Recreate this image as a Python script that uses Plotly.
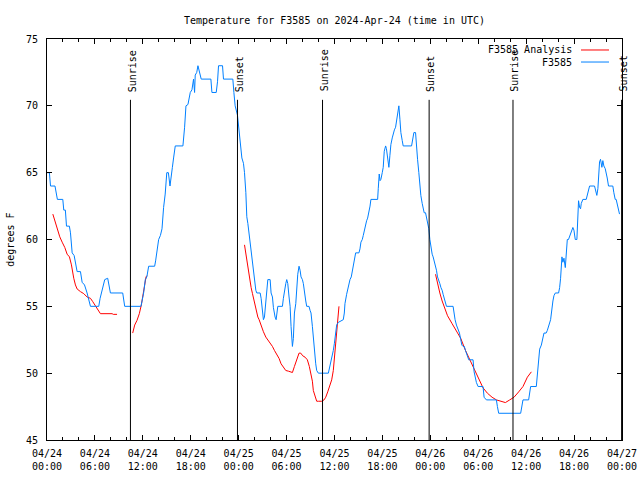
import pandas as pd
import plotly.graph_objects as go

start = pd.Timestamp("2024-04-24 00:00")

# Station observations (hours since 04/24 00:00 UTC, degrees F)
obs_hours = [0.0, 0.3, 0.44, 1.0, 1.3, 1.98, 2.1, 2.3, 2.44, 2.8, 2.94, 3.15, 3.4, 3.65, 3.77, 4.19, 4.4, 4.7,
             5.02, 5.44, 6.48, 6.65, 6.81, 7.0, 7.23, 7.6, 7.73, 7.94, 9.48, 9.6, 9.73, 11.77, 12.1, 12.31, 12.5,
             12.73, 13.48, 13.6, 13.77, 13.98, 14.2, 14.4, 14.6, 14.8, 15.0, 15.2, 15.4, 15.55, 15.7, 15.85, 16.06,
             17.02, 17.15, 17.23, 17.4, 17.65, 17.94, 18.15, 18.35, 18.48, 18.56, 18.75, 18.9, 19.1, 19.31, 20.52,
             20.65, 21.19, 21.35, 21.48, 21.98, 22.1, 23.27, 23.4, 23.56, 23.85, 24.06, 24.2, 24.4, 24.6, 24.73,
             24.9, 25.02, 25.15, 25.31, 25.44, 25.56, 25.73, 25.85, 25.98, 26.15, 26.27, 26.69, 26.81, 26.98, 27.1,
             27.23, 27.4, 27.52, 27.65, 27.94, 28.06, 28.23, 28.35, 28.56, 28.69, 28.9, 29.48, 29.6, 29.73, 29.9,
             30.02, 30.15, 30.31, 30.44, 30.56, 30.73, 30.85, 30.98, 31.15, 31.27, 31.4, 31.56, 31.69, 31.81, 31.98,
             32.1, 32.23, 32.4, 32.52, 32.81, 32.94, 33.06, 33.23, 33.35, 33.48, 33.65, 33.77, 33.98, 35.23, 35.44,
             35.56, 35.85, 35.98, 36.15, 36.27, 36.48, 37.1, 37.23, 37.31, 37.52, 37.65, 37.81, 37.94, 38.1, 38.23,
             38.35, 38.48, 38.65, 39.06, 39.19, 39.31, 39.48, 39.6, 39.73, 39.9, 40.02, 40.15, 40.31, 40.45, 40.56,
             41.4, 41.48, 41.6, 41.7, 41.81, 41.98, 42.1, 42.23, 42.4, 42.5, 42.65, 42.81, 42.94, 43.06, 43.23,
             43.35, 43.5, 43.65, 43.77, 43.9, 44.06, 44.19, 44.31, 44.48, 44.6, 45.65, 45.77, 45.94, 46.15, 46.27,
             46.4, 46.56, 46.69, 46.81, 46.98, 47.1, 47.23, 47.4, 47.52, 47.65, 47.81, 47.94, 48.06, 48.23, 48.35,
             48.48, 48.65, 48.77, 48.9, 49.05, 49.19, 49.33, 49.48, 49.6, 49.73, 49.85, 50.02, 50.85, 50.98, 51.1,
             51.27, 51.48, 51.65, 51.81, 51.95, 52.1, 52.25, 52.4, 52.52, 52.65, 52.81, 53.35, 53.48, 53.77, 53.98,
             54.6, 54.73, 55.02, 56.27, 56.4, 56.56, 59.31, 59.48, 59.6, 60.31, 60.44, 60.56, 61.27, 61.4, 61.56,
             61.69, 61.9, 62.1, 62.23, 62.5, 62.65, 63.06, 63.23, 63.35, 63.48, 63.65, 64.06, 64.19, 64.31, 64.48,
             64.6, 64.73, 64.9, 65.02, 65.15, 65.3, 65.44, 65.6, 65.73, 65.85, 65.98, 66.15, 66.35, 66.4, 66.48,
             66.56, 66.69, 66.81, 66.9, 67.1, 67.52, 67.65, 67.81, 67.94, 68.56, 68.69, 68.85, 68.98, 69.1, 69.19,
             69.31, 69.48, 69.6, 69.73, 69.9, 70.02, 70.15, 70.31, 70.85, 70.98, 71.15, 71.27, 71.4, 71.56, 71.69]
obs_temps = [65, 65, 64, 64, 63, 63, 62.2, 62.2, 61, 61, 60.5, 59, 58.8, 58, 57.6, 57.6, 56.8, 56.6,
             56, 55, 55, 55.6, 56, 56.6, 57, 57.1, 56.6, 56, 56, 55.5, 55, 55, 56, 57, 57.2,
             58, 58, 58.4, 59.2, 60, 60.3, 60.8, 62.4, 63.4, 65, 65, 64, 65, 65.4, 66.1, 67,
             67, 67.6, 68.4, 70, 70.1, 71, 71.2, 72, 71, 72.3, 72.5, 73, 72.5, 72, 72,
             71, 71, 71.8, 73, 73, 72, 72, 71, 70, 69.3, 68.1, 67.5, 66.1, 65.7, 65,
             63.5, 61.7, 61.2, 60.4, 59.6, 58.9, 58.2, 57.7, 57, 56.2, 56, 56, 55.6, 54.6, 54,
             54.2, 55.4, 56.2, 57, 57, 56, 55.7, 54.9, 54.2, 54, 55, 55, 55.6, 56.2, 56.7,
             57, 56.7, 55.7, 55, 53.5, 52, 52.6, 54.5, 55.2, 56.9, 57.4, 58, 57.7, 57.2, 57,
             56.7, 56, 55.4, 55, 55, 54.7, 54.5, 53.5, 52.5, 51.6, 50.7, 50.2, 50, 50, 50.5,
             51, 51.7, 52.2, 53, 53.6, 53.8, 54, 54.5, 55.2, 55.9, 56.3, 56.8, 57, 57.2, 57.7,
             58.2, 58.7, 59, 59, 59.3, 59.8, 60, 60.3, 60.7, 61.2, 61.4, 61.6, 62, 62.5, 63,
             63, 63.8, 64.9, 64.4, 64.5, 65, 65.4, 66.6, 67, 66.8, 66, 65.4, 66.3, 67.1, 67.6,
             68, 68.2, 68.4, 69, 69.5, 70, 69, 68, 67.4, 67, 67, 67.6, 68, 68, 67.3,
             66, 65, 64, 63.3, 62.7, 62.2, 62, 62, 61.7, 61.4, 60.8, 60, 59.4, 58.9, 58.7,
             58.4, 57.9, 57.7, 57.2, 57, 56.7, 56.4, 56.2, 55.9, 55.6, 55.3, 55, 55, 54.2, 54,
             53.6, 53.2, 53, 52.5, 52.1, 52, 52, 51.7, 51.5, 51.2, 51, 51, 50.1, 49.3, 49,
             49, 48.2, 48, 48, 47.5, 47, 47, 47.7, 48, 48, 48.7, 49, 49, 50, 51.1,
             51.8, 52.1, 52.6, 53, 53, 53.2, 54, 55, 55.4, 55.8, 56, 56, 56.4, 57.1, 58.7,
             58.3, 58.6, 57.9, 59.4, 60, 60, 60.2, 60.4, 60.7, 60.9, 60.7, 60, 60, 60.8, 62.2,
             62.9, 62.4, 62.3, 62.7, 63, 63, 63.3, 63.7, 64, 64, 63.6, 63.3, 63.8, 65, 65.8,
             66, 65.4, 65.9, 65.5, 65.3, 64.8, 64.6, 64, 64, 63.5, 63, 63, 62.7, 62.3, 61.9]

# Analysis (segments separated by None)
ana_hours = [0.73, 1.06, 1.35, 1.6, 1.9, 2.23, 2.52, 2.81, 3.06, 3.23, 3.35, 3.56, 3.77, 4.19, 4.6, 5.02, 5.44,
             5.73, 5.98, 6.15, 6.4, 6.69, 8.15, 8.3, 8.77, None,
             10.73, 10.98, 11.27, 11.56, 11.81, 11.98, 12.1, 12.23, 12.4, 12.52, None,
             24.73, 24.9, 25.02, 25.15, 25.31, 25.44, 25.56, 25.73, 25.85, 26.15, 26.4, 26.56, 26.81, 27.1, 27.4,
             27.65, 27.94, 28.23, 28.48, 28.77, 29.06, 29.31, 29.6, 29.9, 30.23, 30.73, 30.98, 31.27, 31.56, 31.77,
             32.02, 32.31, 32.6, 32.85, 33.06, 33.23, 33.35, 33.56, 33.77, 33.98, 34.4, 34.69, 34.9, 35.15, 35.44,
             35.65, 35.85, 35.98, 36.15, 36.27, 36.4, 36.56, None,
             48.65, 48.9, 49.19, 49.48, 49.73, 50.15, 50.73, 51.27, 51.81, 52.4, 52.94, 53.48, 54.06, 54.6, 55.15,
             55.73, 56.27, 56.81, 57.4, 57.94, 58.48, 59.06, 59.6, 60.15, 60.65]
ana_temps = [61.9, 61.2, 60.7, 60.2, 59.8, 59.4, 58.9, 58.7, 58.1, 57.4, 57.1, 56.6, 56.3, 56.1, 55.95, 55.7, 55.6,
             55.35, 55.1, 54.95, 54.7, 54.45, 54.45, 54.4, 54.4, None,
             53.0, 53.6, 53.95, 54.45, 55.1, 55.7, 56.2, 56.6, 57.2, 57.3, None,
             59.6, 58.9, 58.4, 57.9, 57.4, 56.9, 56.4, 55.95, 55.6, 54.95, 54.2, 54.0, 53.5, 53.1, 52.7,
             52.5, 52.2, 52.0, 51.7, 51.4, 51.1, 50.7, 50.4, 50.2, 50.15, 50.05, 50.5, 51.0, 51.5, 51.5,
             51.3, 51.2, 51.0, 50.5, 49.9, 49.4, 48.7, 48.2, 47.9, 47.9, 47.9, 48.0, 48.2, 48.6, 49.1,
             49.5, 50.2, 51.0, 52.5, 53.2, 53.8, 55.0, None,
             57.4, 56.7, 56.0, 55.4, 55.0, 54.3, 53.7, 53.2, 52.6, 51.7, 51.0, 50.3, 49.5, 48.9, 48.5,
             48.2, 48.0, 47.9, 47.8, 48.0, 48.2, 48.6, 49.0, 49.7, 50.1]

event_hours = [10.45, 23.85, 34.5, 47.85, 58.35, 71.95]
event_labels = ["Sunrise", "Sunset", "Sunrise", "Sunset", "Sunrise", "Sunset"]

legend_names = ["F3585 Analysis", "F3585"]
colors = ["#ff0000", "#0080ff"]

y_min, y_max = 45, 75
event_top = 70.45
FONT = "DejaVu Sans Mono"


def to_time(hours):
    return [None if h is None else start + pd.Timedelta(hours=h) for h in hours]


fig = go.Figure()
fig.add_trace(go.Scatter(x=to_time(ana_hours), y=ana_temps, mode="lines",
                         line=dict(color=colors[0], width=1), connectgaps=False,
                         showlegend=False, name=legend_names[0]))
fig.add_trace(go.Scatter(x=to_time(obs_hours), y=obs_temps, mode="lines",
                         line=dict(color=colors[1], width=1),
                         showlegend=False, name=legend_names[1]))

for h, lab in zip(event_hours, event_labels):
    t = start + pd.Timedelta(hours=h)
    fig.add_shape(type="line", xref="x", yref="y", x0=t, x1=t, y0=y_min, y1=event_top,
                  line=dict(color="black", width=1))
    fig.add_annotation(x=t, y=70.9, xref="x", yref="y", text=lab, textangle=-90,
                       showarrow=False, xanchor="center", yanchor="bottom", xshift=2,
                       font=dict(family=FONT, size=10, color="black"))

# custom legend (text right-aligned, sample line to the right)
for i, (name, col) in enumerate(zip(legend_names, colors)):
    yp = 0.9726 - i * 0.030
    fig.add_annotation(x=0.9165, y=yp, xref="paper", yref="paper", text=name,
                       showarrow=False, xanchor="right", yanchor="middle",
                       font=dict(family=FONT, size=10, color="black"))
    fig.add_shape(type="line", xref="paper", yref="paper", x0=0.9287, x1=0.9774, y0=yp, y1=yp,
                  line=dict(color=col, width=1))

fig.add_annotation(x=-0.064, y=0.5, xref="paper", yref="paper", text="degrees F", textangle=-90,
                   showarrow=False, xanchor="center", yanchor="middle",
                   font=dict(family=FONT, size=10, color="black"))

fig.update_layout(
    width=640, height=480,
    margin=dict(l=47, r=18, t=39, b=40, autoexpand=False),
    paper_bgcolor="white", plot_bgcolor="white",
    font=dict(family=FONT, size=10, color="black"),
    title=dict(text="Temperature for F3585 on 2024-Apr-24 (time in UTC)", x=0.5, xref="paper",
               y=1 - 20 / 480, yref="container", xanchor="center", yanchor="middle",
               font=dict(family=FONT, size=10, color="black")),
    showlegend=False,
)
fig.update_xaxes(type="date", range=[start, start + pd.Timedelta(hours=72)], automargin=False,
                 tick0=start, dtick=6 * 3600 * 1000, tickformat="%m/%d<br>%H:%M",
                 ticks="inside", ticklen=5, tickcolor="black", showgrid=False, zeroline=False,
                 showline=True, linecolor="black", linewidth=1, mirror="ticks", ticklabelstandoff=4,
                 minor=dict(dtick=2 * 3600 * 1000, tick0=start, ticks="inside", ticklen=3,
                            tickcolor="black", showgrid=False))
fig.update_yaxes(range=[y_min, y_max], dtick=5, tick0=45, ticks="inside", ticklen=5, tickcolor="black",
                 showgrid=False, zeroline=False, showline=True, linecolor="black", linewidth=1,
                 mirror="ticks", automargin=False, ticklabelstandoff=6)

fig.write_html("out.html", config={"displayModeBar": False},
               post_script="document.body.style.margin='0';document.body.style.overflow='hidden';")
